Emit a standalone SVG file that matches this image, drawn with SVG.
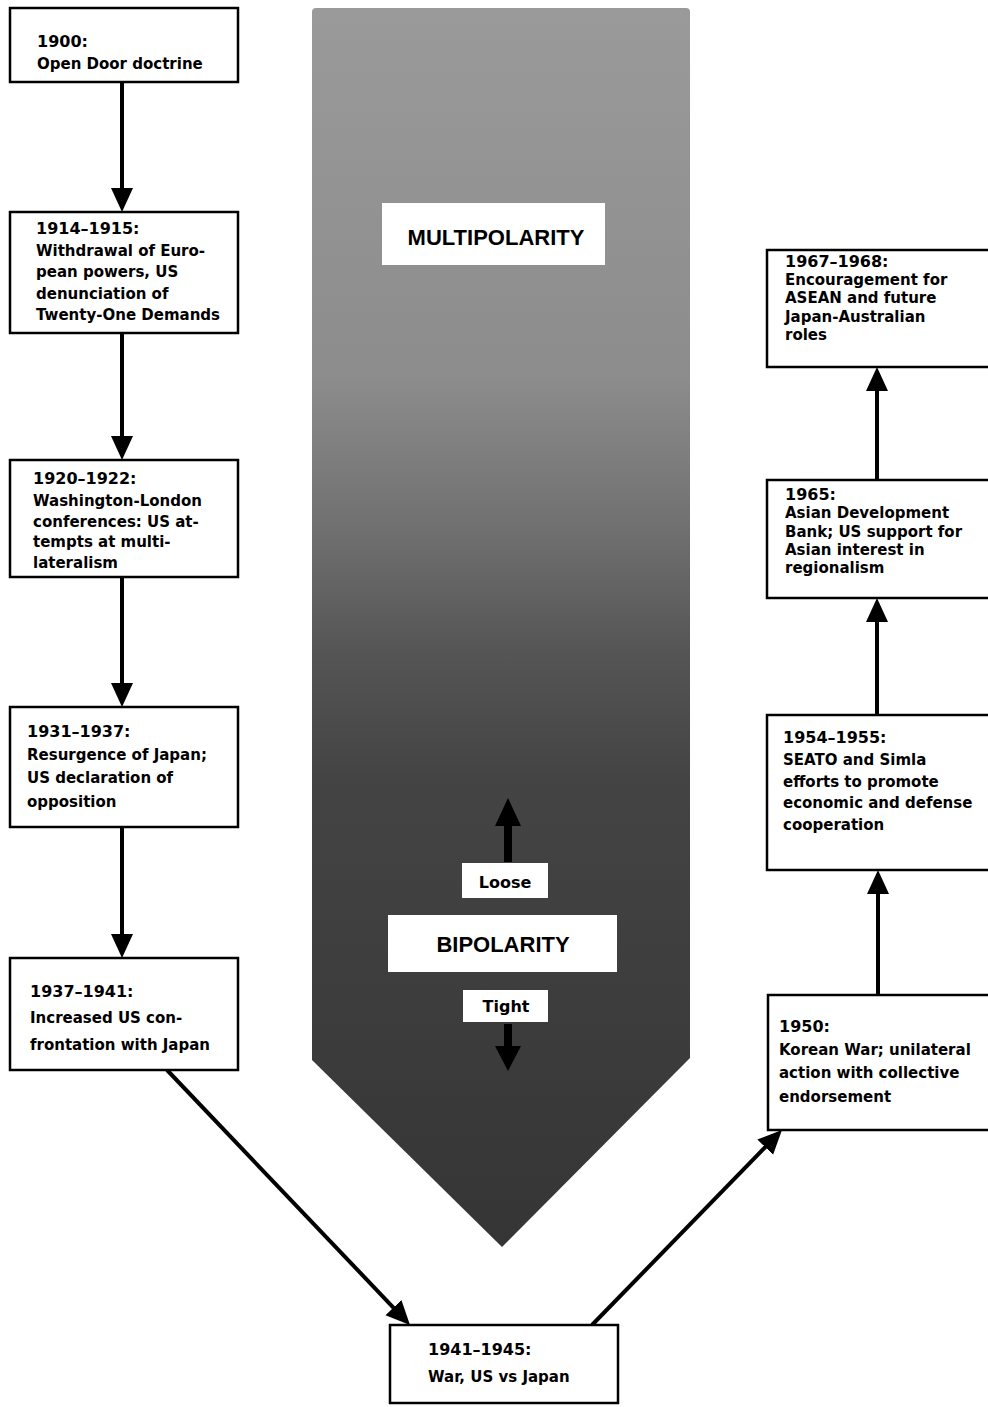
<svg xmlns="http://www.w3.org/2000/svg" width="988" height="1407" viewBox="0 0 988 1407">
<defs>
<linearGradient id="shade" gradientUnits="userSpaceOnUse" x1="0" y1="8" x2="0" y2="1247">
<stop offset="0" stop-color="#9a9a9a"/>
<stop offset="0.3" stop-color="#8c8c8c"/>
<stop offset="0.42" stop-color="#707070"/>
<stop offset="0.52" stop-color="#555555"/>
<stop offset="0.62" stop-color="#444444"/>
<stop offset="1" stop-color="#353535"/>
</linearGradient>
<marker id="ah" viewBox="0 0 24 24" markerWidth="24" markerHeight="24" refX="3" refY="12" orient="auto" markerUnits="userSpaceOnUse">
<path d="M0,1 L24,12 L0,23 z" fill="#000"/>
</marker>
</defs>
<style>
.box{fill:#fff;stroke:#000;stroke-width:2.5}
.yr{font-family:"DejaVu Sans","Liberation Sans",sans-serif;font-weight:bold;font-size:16px;fill:#000}
.tx{font-family:"DejaVu Sans","Liberation Sans",sans-serif;font-weight:bold;font-size:15px;fill:#000}
.con{stroke:#000;stroke-width:4;fill:none;marker-end:url(#ah)}
.lbl{fill:#fff}
.big{font-family:"Liberation Sans",Arial,sans-serif;font-weight:bold;font-size:22px;fill:#000;text-anchor:middle}
.sm{font-family:"DejaVu Sans","Liberation Sans",sans-serif;font-weight:bold;font-size:16px;fill:#000;text-anchor:middle}
</style>
<rect width="988" height="1407" fill="#fff"/>

<g id="banner">
<path d="M316,8 L686,8 Q690,8 690,12 L690,1058 L502,1247 L312,1060 L312,12 Q312,8 316,8 z" fill="url(#shade)"/>
<rect class="lbl" x="382" y="203" width="223" height="62"/>
<text class="big" x="496" y="245">MULTIPOLARITY</text>
<polygon points="508,798 521,826 512,826 512,862 504,862 504,826 495,826" fill="#000"/>
<rect class="lbl" x="462" y="863" width="86" height="35"/>
<text class="sm" x="505" y="888">Loose</text>
<rect class="lbl" x="388" y="915" width="229" height="57"/>
<text class="big" x="503" y="952">BIPOLARITY</text>
<rect class="lbl" x="463" y="990" width="85" height="32"/>
<text class="sm" x="506" y="1012">Tight</text>
<polygon points="504,1024 512,1024 512,1046 521,1046 508,1071 495,1046 504,1046" fill="#000"/>
</g>

<g id="connectors">
<line class="con" x1="122" y1="82" x2="122" y2="191"/>
<line class="con" x1="122" y1="333" x2="122" y2="439"/>
<line class="con" x1="122" y1="577" x2="122" y2="686"/>
<line class="con" x1="122" y1="827" x2="122" y2="937"/>
<line class="con" x1="167" y1="1070" x2="395.5" y2="1309.8"/>
<line class="con" x1="592" y1="1325" x2="767.3" y2="1145"/>
<line class="con" x1="878" y1="995" x2="878" y2="891"/>
<line class="con" x1="877" y1="715" x2="877" y2="619"/>
<line class="con" x1="877" y1="480" x2="877" y2="388"/>
</g>

<g id="n1900">
<rect class="box" x="10" y="8" width="228" height="74"/>
<text class="yr" x="37" y="47">1900:</text>
<text class="tx" x="37" y="69">Open Door doctrine</text>
</g>

<g id="n1914">
<rect class="box" x="10" y="212" width="228" height="121"/>
<text class="yr" x="36" y="234">1914–1915:</text>
<text class="tx" x="36" y="256">Withdrawal of Euro-</text>
<text class="tx" x="36" y="277">pean powers, US</text>
<text class="tx" x="36" y="299">denunciation of</text>
<text class="tx" x="36" y="320">Twenty-One Demands</text>
</g>

<g id="n1920">
<rect class="box" x="10" y="460" width="228" height="117"/>
<text class="yr" x="33" y="484">1920–1922:</text>
<text class="tx" x="33" y="506">Washington-London</text>
<text class="tx" x="33" y="527">conferences: US at-</text>
<text class="tx" x="33" y="547">tempts at multi-</text>
<text class="tx" x="33" y="568">lateralism</text>
</g>

<g id="n1931">
<rect class="box" x="10" y="707" width="228" height="120"/>
<text class="yr" x="27" y="737">1931–1937:</text>
<text class="tx" x="27" y="760">Resurgence of Japan;</text>
<text class="tx" x="27" y="783">US declaration of</text>
<text class="tx" x="27" y="807">opposition</text>
</g>

<g id="n1937">
<rect class="box" x="10" y="958" width="228" height="112"/>
<text class="yr" x="30" y="997">1937–1941:</text>
<text class="tx" x="30" y="1023">Increased US con-</text>
<text class="tx" x="30" y="1050">frontation with Japan</text>
</g>

<g id="n1941">
<rect class="box" x="390" y="1325" width="228" height="78"/>
<text class="yr" x="428" y="1355">1941–1945:</text>
<text class="tx" x="428" y="1382">War, US vs Japan</text>
</g>

<g id="n1950">
<rect class="box" x="768" y="995" width="240" height="135"/>
<text class="yr" x="779" y="1032">1950:</text>
<text class="tx" x="779" y="1055">Korean War; unilateral</text>
<text class="tx" x="779" y="1078">action with collective</text>
<text class="tx" x="779" y="1102">endorsement</text>
</g>

<g id="n1954">
<rect class="box" x="767" y="715" width="240" height="155"/>
<text class="yr" x="783" y="743">1954–1955:</text>
<text class="tx" x="783" y="765">SEATO and Simla</text>
<text class="tx" x="783" y="787">efforts to promote</text>
<text class="tx" x="783" y="808">economic and defense</text>
<text class="tx" x="783" y="830">cooperation</text>
</g>

<g id="n1965">
<rect class="box" x="767" y="480" width="240" height="118"/>
<text class="yr" x="785" y="500">1965:</text>
<text class="tx" x="785" y="518">Asian Development</text>
<text class="tx" x="785" y="537">Bank; US support for</text>
<text class="tx" x="785" y="555">Asian interest in</text>
<text class="tx" x="785" y="573">regionalism</text>
</g>

<g id="n1967">
<rect class="box" x="767" y="250" width="240" height="117"/>
<text class="yr" x="785" y="267">1967–1968:</text>
<text class="tx" x="785" y="285">Encouragement for</text>
<text class="tx" x="785" y="303">ASEAN and future</text>
<text class="tx" x="785" y="322">Japan-Australian</text>
<text class="tx" x="785" y="340">roles</text>
</g>
</svg>
